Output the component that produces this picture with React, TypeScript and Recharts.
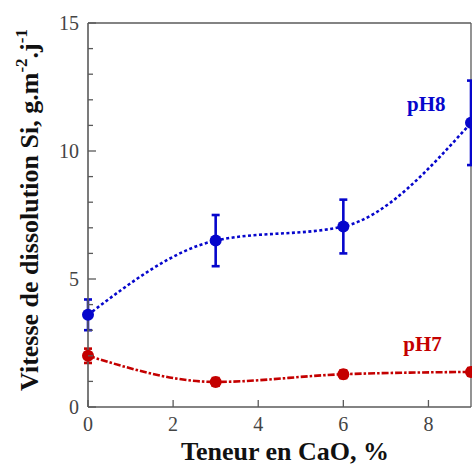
import { LineChart, Line, XAxis, YAxis, ErrorBar, ReferenceLine, ReferenceDot } from 'recharts'

// Teneur en CaO (%)
const teneurs = [0, 3, 6, 9]
// pH8 : vitesse + barres d'erreur
const ph8 = [3.6, 6.5, 7.05, 11.1]
const ph8Err = [0.6, 1.0, 1.05, 1.65]
// pH7
const ph7 = [2.0, 0.98, 1.28, 1.37]
const ph7Err = [0.28, 0.15, 0.15, 0.15]

const xTicks = [0, 2, 4, 6, 8]
const yTicks = [0, 1, 2, 3, 4, 5, 6, 7, 8, 9, 10, 11, 12, 13, 14, 15]

const BLUE = '#0606cc'
const RED = '#c40000'
const AXIS = '#5a5a5a'
const FONT = 'Liberation Serif, DejaVu Serif, serif'

const data = teneurs.map((t, i) => ({
  x: t,
  ph8: ph8[i],
  ph8Err: ph8Err[i],
  ph7: ph7[i],
  ph7Err: ph7Err[i],
}))

const Y_MARGIN = 9
const X_MARGIN = 10

function YTick(props: any) {
  const { x, y, payload } = props
  const axisX = x + Y_MARGIN
  const major = payload.value % 5 === 0
  return (
    <g>
      <line x1={axisX} x2={axisX + (major ? 8 : 5)} y1={y} y2={y} stroke={AXIS} strokeWidth={1.3} />
      {major && (
        <text x={x} y={y} textAnchor="end" dominantBaseline="central" style={{ fontFamily: FONT, fontSize: 20 }} fill="#444">
          {payload.value}
        </text>
      )}
    </g>
  )
}

function XTick(props: any) {
  const { x, y, payload } = props
  const axisY = y - X_MARGIN
  return (
    <g>
      <line x1={x} x2={x} y1={axisY} y2={axisY - 7} stroke={AXIS} strokeWidth={1.3} />
      <text x={x} y={y} dy="0.72em" textAnchor="middle" style={{ fontFamily: FONT, fontSize: 20 }} fill="#444">
        {payload.value}
      </text>
    </g>
  )
}

function YTitle() {
  return (
    <text
      transform="translate(38, 210) rotate(-90)"
      textAnchor="middle"
      style={{ fontFamily: FONT, fontWeight: 'bold', fontSize: 26 }}
      fill="#111"
    >
      Vitesse de dissolution Si, g.m
      <tspan dy={-11} style={{ fontSize: 17 }}>-2</tspan>
      <tspan dy={11}>.j</tspan>
      <tspan dy={-11} style={{ fontSize: 17 }}>-1</tspan>
    </text>
  )
}

function XTitle() {
  return (
    <text x={285} y={460} textAnchor="middle" style={{ fontFamily: FONT, fontWeight: 'bold', fontSize: 26 }} fill="#111">
      Teneur en CaO, %
    </text>
  )
}

export default function App() {
  return (
    <div style={{ position: 'absolute', left: 0, top: 0, width: 472, height: 467, background: '#fff', fontFamily: FONT }}>
      <LineChart width={472} height={467} data={data} margin={{ top: 23, right: 1, bottom: 0, left: 0 }}>
        <XAxis
          dataKey="x"
          type="number"
          domain={[0, 9]}
          ticks={xTicks}
          interval={0}
          height={60}
          tickSize={0}
          tickMargin={X_MARGIN}
          tickLine={false}
          tick={<XTick />}
          axisLine={{ stroke: AXIS, strokeWidth: 1.6 }}
          label={<XTitle />}
        />
        <YAxis
          type="number"
          domain={[0, 15]}
          ticks={yTicks}
          interval={0}
          width={88}
          tickSize={0}
          tickMargin={Y_MARGIN}
          tickLine={false}
          tick={<YTick />}
          axisLine={{ stroke: AXIS, strokeWidth: 1.6 }}
          label={<YTitle />}
        />
        <ReferenceLine y={15} stroke={AXIS} strokeWidth={1.3} />
        <ReferenceLine x={9} stroke={AXIS} strokeWidth={1.3} />
        <Line
          type="monotone"
          dataKey="ph8"
          stroke={BLUE}
          strokeWidth={2.6}
          strokeDasharray="3 2.5"
          dot={{ r: 6, fill: BLUE, stroke: 'none' }}
          isAnimationActive={false}
        >
          <ErrorBar dataKey="ph8Err" direction="y" width={4} stroke={BLUE} strokeWidth={2.6} />
        </Line>
        <Line
          type="monotone"
          dataKey="ph7"
          stroke={RED}
          strokeWidth={2.6}
          strokeDasharray="7 2 2.5 2"
          dot={{ r: 6, fill: RED, stroke: 'none' }}
          isAnimationActive={false}
        >
          <ErrorBar dataKey="ph7Err" direction="y" width={4} stroke={RED} strokeWidth={2.6} />
        </Line>
        <ReferenceDot
          x={7.95}
          y={11.86}
          r={0}
          label={{ value: 'pH8', position: 'center', fill: BLUE, style: { fontFamily: FONT, fontWeight: 'bold', fontSize: 21 } }}
        />
        <ReferenceDot
          x={7.86}
          y={2.49}
          r={0}
          label={{ value: 'pH7', position: 'center', fill: RED, style: { fontFamily: FONT, fontWeight: 'bold', fontSize: 21 } }}
        />
      </LineChart>
    </div>
  )
}
